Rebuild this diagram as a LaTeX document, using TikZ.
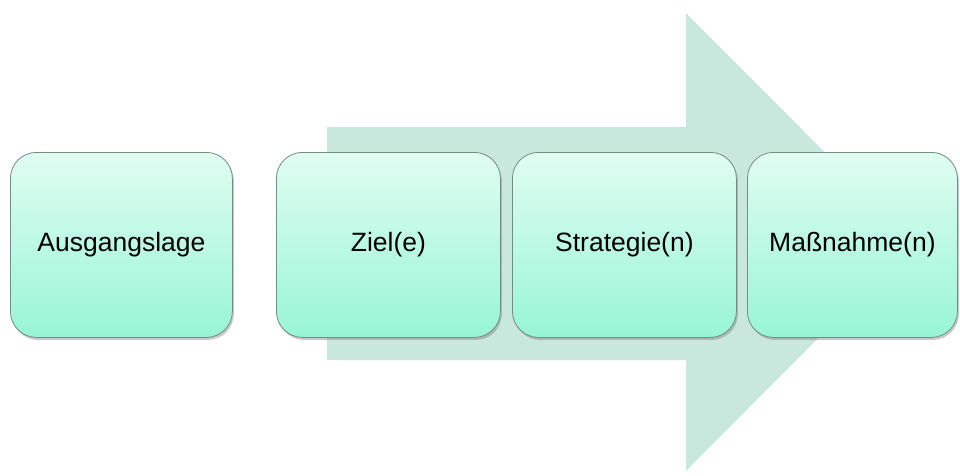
\documentclass[tikz,border=0pt]{standalone}
\usepackage{fontspec}
\setmainfont{Liberation Sans}
\usetikzlibrary{shadows}
\definecolor{arrowfill}{RGB}{201,232,221}
\definecolor{boxtop}{RGB}{224,253,242}
\definecolor{boxbot}{RGB}{152,245,214}
\definecolor{boxline}{RGB}{115,140,132}
\tikzset{
  stepbox/.style={draw=boxline, line width=0.8pt, rounded corners=26pt,
    top color=boxtop, bottom color=boxbot, anchor=north west,
    minimum height=185pt, inner sep=0pt,
    font=\fontsize{26.5}{30}\selectfont,
    drop shadow={shadow xshift=1.5pt, shadow yshift=-2.5pt, opacity=0.35, fill=black!60}},
}
\begin{document}
\begin{tikzpicture}[x=1pt,y=-1pt]
\useasboundingbox (0,0) rectangle (960,475);
% big arrow
\fill[arrowfill] (327,127) -- (686,127) -- (686,13) -- (914,242) -- (686,471) -- (686,360) -- (327,360) -- cycle;
\node[stepbox, minimum width=222pt] (a) at (10,152) {Ausgangslage};
\node[stepbox, minimum width=224pt] (b) at (276,152) {Ziel(e)};
\node[stepbox, minimum width=224pt] (c) at (512,152) {Strategie(n)};
\node[stepbox, minimum width=210pt] (d) at (747,152) {Maßnahme(n)};
\end{tikzpicture}
\end{document}
